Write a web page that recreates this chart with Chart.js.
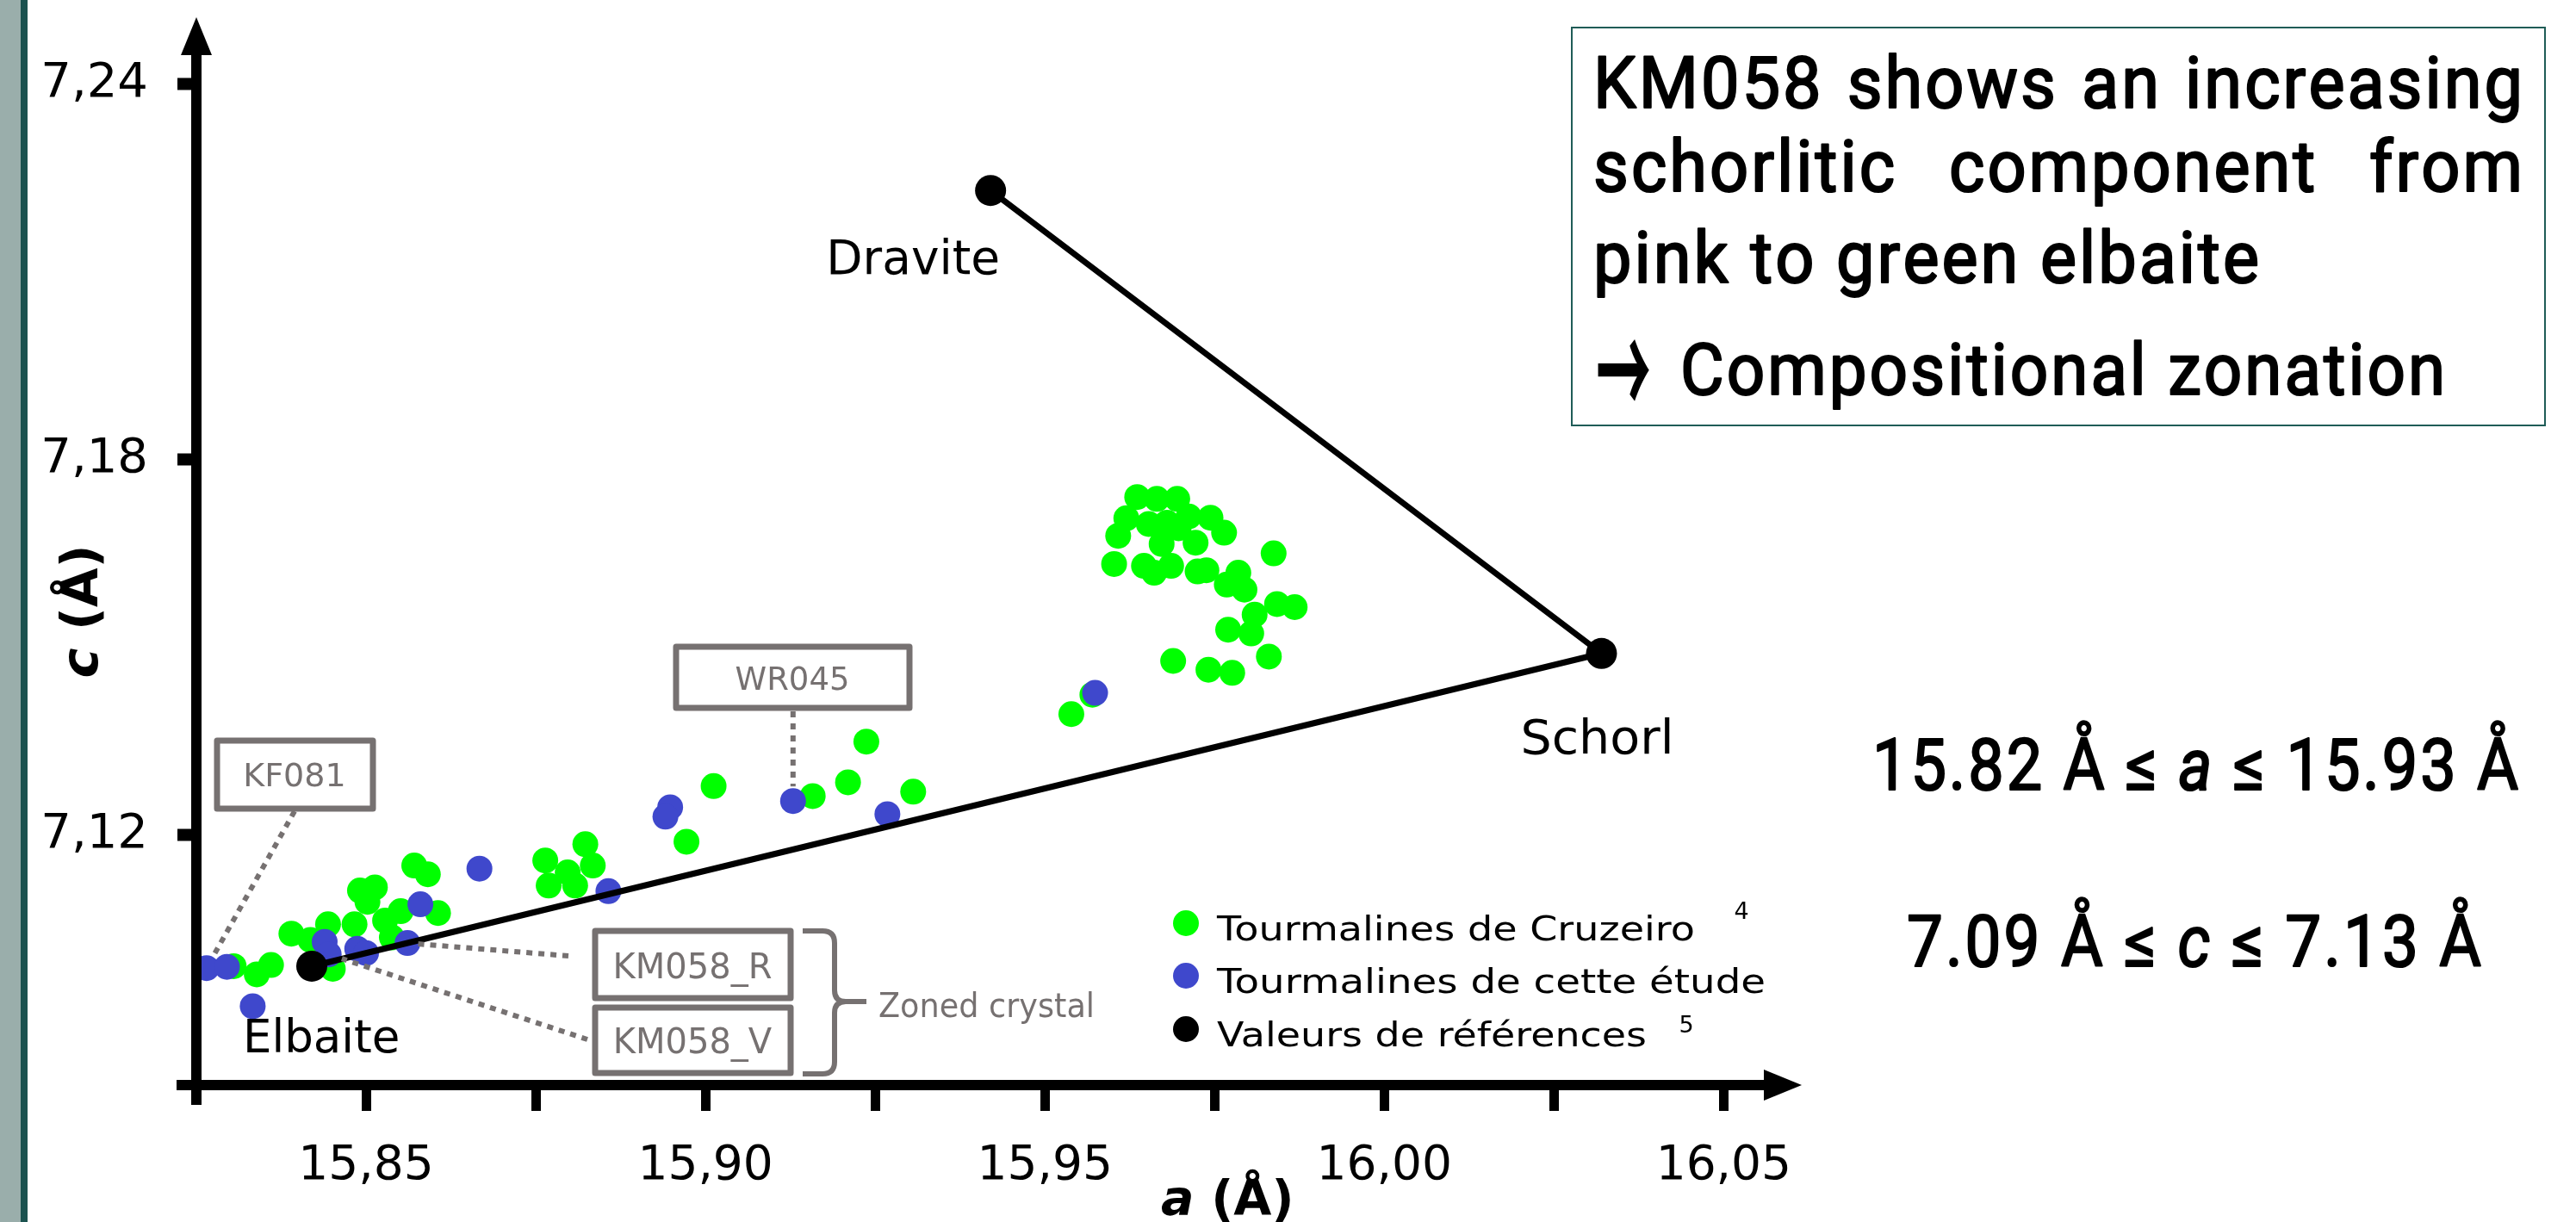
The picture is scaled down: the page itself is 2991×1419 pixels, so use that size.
<!DOCTYPE html>
<html>
<head>
<meta charset="utf-8">
<title>Paramètres de maille a / c des tourmalines</title>
<script src="https://cdn.jsdelivr.net/npm/chart.js@4.4.1/dist/chart.umd.min.js"></script>
<style>
  html, body { margin: 0; padding: 0; background: #ffffff; overflow: hidden; }
  canvas { display: block; }
</style>
</head>
<body>
<canvas id="plot" width="2991" height="1419"></canvas>
<script>
// ---- Lattice parameters (Å) ----
// Tourmalines de Cruzeiro
const cruzeiroA = [
  15.8305, 15.8339, 15.8360, 15.8390, 15.8418, 15.8444, 15.8451, 15.8483, 15.8491, 15.8513,
  15.8502, 15.8528, 15.8551, 15.8538, 15.8606, 15.8571, 15.8591, 15.8764, 15.8769, 15.8797,
  15.8808, 15.8823, 15.8834, 15.8972, 15.9012, 15.9158, 15.9210, 15.9237, 15.9306, 15.9570,
  15.9539, 15.9689, 15.9741, 15.9776, 15.9830, 15.9770, 15.9804, 15.9809, 15.9842, 15.9868,
  15.9837, 15.9785, 15.9768, 15.9794, 15.9725, 15.9738, 15.9602, 15.9646, 15.9661, 15.9686,
  15.9608, 15.9620, 15.9636, 15.9665, 15.9695, 15.9653, 15.9672, 15.9680, 15.9712, 15.9744,
  15.9764, 15.9722, 15.9697
];
const cruzeiroC = [
  7.0990, 7.0977, 7.0992, 7.1042, 7.1032, 7.1057, 7.0986, 7.1057, 7.1111, 7.1116,
  7.1093, 7.1063, 7.1078, 7.1036, 7.1075, 7.1151, 7.1137, 7.1159, 7.1119, 7.1140,
  7.1119, 7.1185, 7.1151, 7.1189, 7.1278, 7.1262, 7.1284, 7.1349, 7.1269, 7.1424,
  7.1393, 7.1478, 7.1464, 7.1459, 7.1485, 7.1528, 7.1522, 7.1552, 7.1569, 7.1564,
  7.1650, 7.1619, 7.1600, 7.1592, 7.1621, 7.1623, 7.1633, 7.1630, 7.1619, 7.1630,
  7.1678, 7.1706, 7.1740, 7.1737, 7.1737, 7.1697, 7.1665, 7.1699, 7.1709, 7.1707,
  7.1683, 7.1667, 7.1690
];

// Tourmalines de cette étude
const etudeA = [15.8200, 15.8265, 15.8295, 15.8333, 15.8439, 15.8445, 15.8487, 15.8500, 15.8561,
                15.8580, 15.8667, 15.8857, 15.8948, 15.8941, 15.9129, 15.9268, 15.9574];
const etudeC = [7.0928, 7.0987, 7.0989, 7.0926, 7.1029, 7.1009, 7.1018, 7.1011, 7.1027,
                7.1089, 7.1146, 7.1110, 7.1244, 7.1229, 7.1254, 7.1233, 7.1427];

// Named samples of this study (index into etudeA / etudeC)
const sampleNames = ['KF081', 'WR045', 'KM058_R', 'KM058_V'];
const sampleIndex = [1, 14, 8, 5];

// Reference end-members, in the order the boundary is traced
const refNames = ['Dravite', 'Schorl', 'Elbaite'];
const refA = [15.942, 16.032, 15.842];
const refC = [7.223, 7.149, 7.099];

// Axes
const xTicks = [15.85, 15.875, 15.90, 15.925, 15.95, 15.975, 16.00, 16.025, 16.05];
const xTickLabels = ['15,85', '', '15,90', '', '15,95', '', '16,00', '', '16,05'];
const yTicks = [7.12, 7.18, 7.24];
const yTickLabels = ['7,12', '7,18', '7,24'];
const xRange = [15.825, 16.0615];
const yRange = [7.08, 7.2507];

// Text
const legendLabels = ['Tourmalines de Cruzeiro', 'Tourmalines de cette étude', 'Valeurs de références'];
const legendRefs = ['4', '', '5'];
const noteLines = ['KM058 shows an increasing', 'schorlitic component from', 'pink to green elbaite', 'Compositional zonation'];
const noteArrow = '\u2192';
const rangeLines = [['15.82 Å ≤ ', 'a', ' ≤ 15.93 Å'], ['7.09 Å ≤ ', 'c', ' ≤ 7.13 Å']];

// ---- styles ----
const GREEN = '#00FF00';
const BLUE = '#3F48CC';
const GREY = '#767171';
const TEAL = '#1F5C57';
const SANS = '"DejaVu Sans", Verdana, sans-serif';
const DIN = 'Roboto, "DejaVu Sans Condensed", sans-serif';
const ARROW_FONT = '"Noto Sans CJK JP", "DejaVu Sans", sans-serif';

const pts = (xs, ys) => xs.map((v, i) => ({ x: v, y: ys[i] }));

// draw a run of text pieces, optionally stretched to a given width
function fitText(ctx, parts, x, y, width, align) {
  let nat = 0;
  parts.forEach(p => { ctx.font = p.f; p.w = ctx.measureText(p.t).width; nat += p.w; });
  const s = width ? width / nat : 1;
  let x0 = x;
  if (align === 'center') x0 = x - nat * s / 2;
  else if (align === 'right') x0 = x - nat * s;
  ctx.save();
  ctx.translate(x0, y);
  ctx.scale(s, 1);
  ctx.textAlign = 'left';
  ctx.textBaseline = 'alphabetic';
  let cx = 0;
  parts.forEach(p => { ctx.font = p.f; ctx.fillText(p.t, cx, 0); cx += p.w; });
  ctx.restore();
}

// letter-spaced text: glyphs squeezed by s, ls pixels between glyphs,
// with a fine outline to give a medium weight
function charRun(parts) {
  const run = [];
  parts.forEach(p => { for (const ch of p.t) run.push({ ch, f: p.f }); });
  return run;
}
function runNatural(ctx, run) {
  let w = 0;
  run.forEach(r => { ctx.font = r.f; r.w = ctx.measureText(r.ch).width; w += r.w; });
  return w;
}
function drawRun(ctx, run, x, y, s, ls) {
  runNatural(ctx, run);
  let cx = x;
  run.forEach(r => {
    ctx.font = r.f;
    ctx.save();
    ctx.translate(cx, y);
    ctx.scale(s, 1);
    ctx.fillText(r.ch, 0, 0);
    ctx.strokeText(r.ch, 0, 0);
    ctx.restore();
    cx += r.w * s + ls;
  });
  return cx - ls;
}
function spacedWidth(ctx, run, s, ls) {
  return runNatural(ctx, run) * s + ls * (run.length - 1);
}
// squeeze factor so that a run spans the given width
function squeezeFor(ctx, run, width, ls) {
  return (width - ls * (run.length - 1)) / runNatural(ctx, run);
}

function justifyLine(ctx, text, x, y, width, font, s, ls) {
  const words = text.split(' ').map(w => charRun([{ t: w, f: font }]));
  const ws = words.map(r => spacedWidth(ctx, r, s, ls));
  const total = ws.reduce((a, b) => a + b, 0);
  const gap = (width - total) / (words.length - 1);
  let cx = x;
  words.forEach((r, i) => { drawRun(ctx, r, cx, y, s, ls); cx += ws[i] + gap; });
}

function dotted(ctx, x1, y1, x2, y2) {
  ctx.save();
  ctx.strokeStyle = GREY;
  ctx.lineWidth = 6;
  ctx.lineCap = 'butt';
  ctx.setLineDash([7, 7]);
  ctx.beginPath();
  ctx.moveTo(x1, y1);
  ctx.lineTo(x2, y2);
  ctx.stroke();
  ctx.restore();
}

// end point of a leader line, stopping at the rim of a marker
function rimPoint(px, py, fromX, fromY, r) {
  const dx = fromX - px, dy = fromY - py;
  const d = Math.hypot(dx, dy) || 1;
  return [px + dx / d * r, py + dy / d * r];
}

function labelBox(ctx, x, y, w, h, text, size, cx, by) {
  ctx.save();
  ctx.strokeStyle = GREY;
  ctx.lineWidth = 7;
  ctx.lineJoin = 'round';
  ctx.strokeRect(x, y, w, h);
  ctx.fillStyle = GREY;
  ctx.font = size + 'px ' + SANS;
  ctx.textAlign = 'center';
  ctx.textBaseline = 'alphabetic';
  ctx.fillText(text, cx, by);
  ctx.restore();
}

const backdrop = {
  id: 'backdrop',
  beforeDraw(chart) {
    const ctx = chart.ctx;
    ctx.save();
    ctx.fillStyle = '#ffffff';
    ctx.fillRect(0, 0, chart.width, chart.height);
    ctx.fillStyle = '#9AAEAB';
    ctx.fillRect(0, 0, 24, chart.height);
    ctx.fillStyle = '#1C5350';
    ctx.fillRect(24, 0, 8, chart.height);
    ctx.restore();
  }
};

const decorations = {
  id: 'decorations',
  afterDatasetsDraw(chart) {
    const ctx = chart.ctx;
    const xs = chart.scales.x, ys = chart.scales.y;
    const X = v => xs.getPixelForValue(v);
    const Y = v => ys.getPixelForValue(v);
    const x0 = X(xRange[0]), x1 = X(xRange[1]);
    const y0 = Y(yRange[0]), y1 = Y(yRange[1]);

    ctx.save();
    ctx.textAlign = 'left';
    ctx.textBaseline = 'alphabetic';
    // axes with arrowheads
    ctx.fillStyle = '#000';
    ctx.fillRect(x0 - 23, y0 - 6, (x1 - 43) - (x0 - 23), 12);
    ctx.beginPath();
    ctx.moveTo(x1, y0); ctx.lineTo(x1 - 44, y0 - 18); ctx.lineTo(x1 - 44, y0 + 18);
    ctx.closePath(); ctx.fill();
    ctx.fillRect(x0 - 6, y1 + 42, 12, (y0 + 23) - (y1 + 42));
    ctx.beginPath();
    ctx.moveTo(x0, y1); ctx.lineTo(x0 - 18, y1 + 44); ctx.lineTo(x0 + 18, y1 + 44);
    ctx.closePath(); ctx.fill();

    // axis titles
    fitText(ctx, [{ t: 'a', f: 'italic bold 57px ' + SANS }, { t: ' (Å)', f: 'bold 57px ' + SANS }], 1348, 1411);
    ctx.save();
    ctx.translate(113, 710);
    ctx.rotate(-Math.PI / 2);
    fitText(ctx, [{ t: 'c', f: 'italic bold 59px ' + SANS }, { t: ' (Å)', f: 'bold 59px ' + SANS }], 0, 0, 0, 'center');
    ctx.restore();

    // end-member names
    const rp = refA.map((a, i) => [X(a), Y(refC[i])]);
    fitText(ctx, [{ t: refNames[0], f: '55px ' + SANS }], rp[0][0] + 11, rp[0][1] + 97, 0, 'right');
    fitText(ctx, [{ t: refNames[1], f: '56px ' + SANS }], rp[1][0] - 94, rp[1][1] + 116, 178);
    fitText(ctx, [{ t: refNames[2], f: '53px ' + SANS }], 282, 1222);

    // sample call-outs
    const sp = sampleIndex.map(i => [X(etudeA[i]), Y(etudeC[i])]);
    let e;
    e = rimPoint(sp[0][0], sp[0][1], 342, 942, 17);
    dotted(ctx, 342, 942, e[0], e[1]);
    labelBox(ctx, 252, 860, 181, 79, sampleNames[0], 38, 342, 913);

    e = rimPoint(sp[1][0], sp[1][1], sp[1][0], 825, 17);
    dotted(ctx, sp[1][0], 826, e[0], e[1]);
    labelBox(ctx, 785, 751, 271, 71, sampleNames[1], 37, 920, 801);

    e = rimPoint(sp[2][0], sp[2][1], 660, 1110, 11);
    dotted(ctx, 660, 1110, e[0], e[1]);
    e = rimPoint(sp[3][0], sp[3][1], 682, 1207, 16);
    dotted(ctx, 682, 1207, e[0], e[1]);
    labelBox(ctx, 691, 1081, 227, 78, sampleNames[2], 40, 804, 1136);
    labelBox(ctx, 691, 1170, 227, 76, sampleNames[3], 40, 804, 1223);

    // brace + caption
    ctx.save();
    ctx.strokeStyle = GREY;
    ctx.lineWidth = 6;
    ctx.lineJoin = 'round';
    ctx.beginPath();
    ctx.moveTo(932, 1081); ctx.lineTo(955, 1081);
    ctx.quadraticCurveTo(969, 1081, 969, 1095);
    ctx.lineTo(969, 1150);
    ctx.quadraticCurveTo(969, 1163, 982, 1163);
    ctx.lineTo(1006, 1163);
    ctx.moveTo(982, 1163);
    ctx.quadraticCurveTo(969, 1163, 969, 1176);
    ctx.lineTo(969, 1233);
    ctx.quadraticCurveTo(969, 1247, 955, 1247);
    ctx.lineTo(932, 1247);
    ctx.stroke();
    ctx.restore();
    ctx.fillStyle = GREY;
    fitText(ctx, [{ t: 'Zoned crystal', f: '39px ' + SANS }], 1020, 1181, 251);

    // legend
    const ds = chart.data.datasets;
    const rowY = [1072, 1133, 1195];
    ds.forEach((d, i) => {
      ctx.fillStyle = d.backgroundColor;
      ctx.beginPath();
      ctx.arc(1377, rowY[i], 15, 0, Math.PI * 2);
      ctx.fill();
    });
    const legendW = [555, 637, 499];
    ctx.fillStyle = '#000';
    legendLabels.forEach((t, i) => {
      fitText(ctx, [{ t, f: '39px ' + SANS }], 1413, rowY[i] + 20, legendW[i]);
    });
    ctx.font = '27px ' + SANS;
    ctx.textAlign = 'center';
    ctx.fillText(legendRefs[0], 2022, 1067);
    ctx.fillText(legendRefs[2], 1958, 1199);
    ctx.textAlign = 'left';

    // note box
    ctx.strokeStyle = TEAL;
    ctx.lineWidth = 2;
    ctx.strokeRect(1825, 32, 1130, 462);
    ctx.fillStyle = '#000';
    ctx.strokeStyle = '#000';
    ctx.lineWidth = 2.2;
    ctx.lineJoin = 'round';
    const noteFont = '84px ' + DIN;
    const ls = 3;
    const s = squeezeFor(ctx, charRun([{ t: noteLines[2], f: noteFont }]), 773, ls);
    justifyLine(ctx, noteLines[0], 1850, 125, 1079, noteFont, s, ls);
    justifyLine(ctx, noteLines[1], 1850, 222, 1079, noteFont, s, ls);
    drawRun(ctx, charRun([{ t: noteLines[2], f: noteFont }]), 1850, 328, s, ls);
    fitText(ctx, [{ t: noteArrow, f: 'bold 150px ' + ARROW_FONT }], 1853, 487, 64);
    const last = charRun([{ t: noteLines[3], f: noteFont }]);
    drawRun(ctx, last, 1951, 458, squeezeFor(ctx, last, 888, ls), ls);

    // ranges of this study
    const rx = [2174, 2214];
    const rw = [750, 667];
    const rb = [917, 1122];
    rangeLines.forEach((r, i) => {
      const run = charRun([
        { t: r[0], f: '84px ' + DIN },
        { t: r[1], f: 'italic 84px ' + DIN },
        { t: r[2], f: '84px ' + DIN }
      ]);
      drawRun(ctx, run, rx[i], rb[i], squeezeFor(ctx, run, rw[i], ls), ls);
    });
    ctx.restore();
  }
};

const chart = new Chart(document.getElementById('plot'), {
  type: 'scatter',
  data: {
    datasets: [
      {
        label: legendLabels[0],
        data: pts(cruzeiroA, cruzeiroC),
        backgroundColor: GREEN,
        pointRadius: 15,
        pointBorderWidth: 0,
        clip: false,
        order: 3
      },
      {
        label: legendLabels[1],
        data: pts(etudeA, etudeC),
        backgroundColor: BLUE,
        pointRadius: 15,
        pointBorderWidth: 0,
        clip: false,
        order: 2
      },
      {
        label: legendLabels[2],
        data: pts(refA, refC),
        backgroundColor: '#000000',
        borderColor: '#000000',
        borderWidth: 7,
        showLine: true,
        pointRadius: 18,
        pointBorderWidth: 0,
        clip: false,
        order: 1
      }
    ]
  },
  options: {
    responsive: false,
    animation: false,
    devicePixelRatio: 1,
    events: [],
    layout: { padding: { left: 0, top: 20, right: 899, bottom: 0 } },
    plugins: { legend: { display: false }, tooltip: { enabled: false } },
    scales: {
      x: {
        type: 'linear',
        min: xRange[0],
        max: xRange[1],
        afterBuildTicks: s => { s.ticks = xTicks.map(v => ({ value: v })); },
        afterFit: s => { s.height = 159; s.paddingLeft = 0; s.paddingRight = 0; },
        ticks: {
          autoSkip: false,
          maxRotation: 0,
          padding: 32,
          color: '#000',
          font: { family: SANS, size: 55 },
          callback: (v, i) => xTickLabels[i]
        },
        grid: { drawOnChartArea: false, drawTicks: true, tickLength: 30, tickWidth: 11, tickColor: '#000' },
        border: { display: false }
      },
      y: {
        type: 'linear',
        min: yRange[0],
        max: yRange[1],
        afterBuildTicks: s => { s.ticks = yTicks.map(v => ({ value: v })); },
        afterFit: s => { s.width = 228; s.paddingTop = 0; s.paddingBottom = 0; },
        ticks: {
          autoSkip: false,
          padding: 34,
          color: '#000',
          font: { family: SANS, size: 56 },
          callback: (v, i) => yTickLabels[i]
        },
        grid: { drawOnChartArea: false, drawTicks: true, tickLength: 22, tickWidth: 14, tickColor: '#000' },
        border: { display: false }
      }
    }
  },
  plugins: [backdrop, decorations]
});
</script>
</body>
</html>
